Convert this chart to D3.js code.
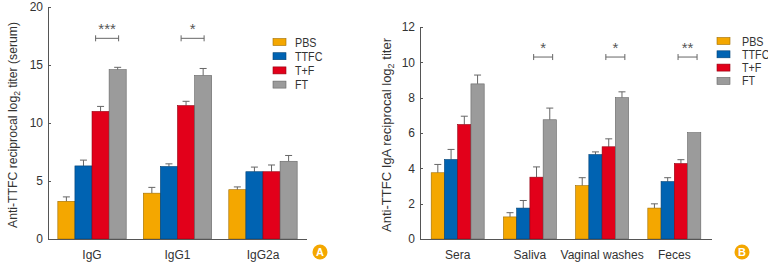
<!DOCTYPE html>
<html lang="en">
<head>
<meta charset="UTF-8">
<title>Anti-TTFC titers</title>
<style>
  body { margin: 0; background: #fff; }
  svg { font-family: "Liberation Sans", Arial, sans-serif; }
  .axis path, .axis line { stroke: #555; shape-rendering: crispEdges; }
  .axis text { font-size: 12px; fill: #333; }
</style>
</head>
<body>
<svg width="768" height="262"></svg>
<script src="https://d3js.org/d3.v7.min.js"></script>
<script>
// groups in the legend
var groups = ["PBS", "TTFC", "T+F", "FT"];
var colors = ["#f4a700", "#0063b2", "#e2001a", "#9b9b9b"];

// panel A (serum IgG subclasses)
var catsA = ["IgG", "IgG1", "IgG2a"];
var meanA = [
  [3.25, 3.95, 4.25],   // PBS
  [6.3, 6.25, 5.8],     // TTFC
  [11.0, 11.5, 5.8],    // T+F
  [14.6, 14.1, 6.7]     // FT
];
var errA = [
  [0.38, 0.5, 0.24],
  [0.5, 0.23, 0.4],
  [0.43, 0.37, 0.58],
  [0.2, 0.6, 0.5]
];
var sigA = [{cat: "IgG", label: "***"}, {cat: "IgG1", label: "*"}];
var ticksA = [0, 5, 10, 15, 20];

// panel B (IgA)
var catsB = ["Sera", "Saliva", "Vaginal washes", "Feces"];
var meanB = [
  [3.75, 1.25, 3.02, 1.75],
  [4.5, 1.75, 4.78, 3.25],
  [6.48, 3.5, 5.22, 4.27],
  [8.78, 6.75, 8.0, 6.02]
];
var errB = [
  [0.47, 0.24, 0.45, 0.24],
  [0.57, 0.43, 0.15, 0.22],
  [0.47, 0.58, 0.45, 0.22],
  [0.5, 0.66, 0.33, 0]
];
var sigB = [{cat: "Saliva", label: "*"}, {cat: "Vaginal washes", label: "*"}, {cat: "Feces", label: "**"}];
var ticksB = [0, 2, 4, 6, 8, 10, 12];

var svg = d3.select("svg");

function panel(o) {
  var x = d3.scaleBand().domain(o.cats).range([o.x0, o.x1])
    .paddingInner(o.padIn).paddingOuter(o.padOut);
  var xs = d3.scaleBand().domain(groups).range([0, x.bandwidth()]);
  var y = d3.scaleLinear().domain([0, o.ymax]).range([o.y0, o.y1]);
  var g = svg.append("g");

  // bars + error bars
  groups.forEach(function(grp, gi) {
    o.cats.forEach(function(c, ci) {
      var v = o.mean[gi][ci], e = o.err[gi][ci];
      var bx = x(c) + xs(grp), bw = xs.bandwidth();
      if (e > 0) {
        g.append("line")
          .attr("x1", bx + bw / 2).attr("x2", bx + bw / 2)
          .attr("y1", y(v)).attr("y2", y(v + e))
          .attr("stroke", "#666").attr("stroke-width", 1);
        g.append("line")
          .attr("x1", bx + bw / 2 - 3.5).attr("x2", bx + bw / 2 + 3.5)
          .attr("y1", y(v + e)).attr("y2", y(v + e))
          .attr("stroke", "#666").attr("stroke-width", 1);
      }
      g.append("rect")
        .attr("x", bx).attr("y", y(v))
        .attr("width", bw).attr("height", y(0) - y(v))
        .attr("fill", colors[gi])
        .attr("stroke", d3.color(colors[gi]).darker(1.2))
        .attr("stroke-width", 0.6);
    });
  });

  // significance brackets
  o.sig.forEach(function(s) {
    var cx = x(s.cat) + xs("FT") + o.sigShift;
    var hw = o.sigHalf, by = y(o.sigY);
    g.append("path")
      .attr("d", "M" + (cx - hw) + "," + (by - 3) + "V" + (by + 3) + "M" + (cx - hw) + "," + by +
        "H" + (cx + hw) + "M" + (cx + hw) + "," + (by - 3) + "V" + (by + 3))
      .attr("stroke", "#666").attr("fill", "none");
    g.append("text")
      .attr("x", cx).attr("y", by - 4)
      .attr("text-anchor", "middle")
      .attr("font-size", 15).attr("fill", "#555")
      .text(s.label);
  });

  // axes
  var ya = g.append("g").attr("class", "axis")
    .attr("transform", "translate(" + o.x0 + ",0)")
    .call(d3.axisRight(y).tickValues(o.ticks).tickSize(3).tickSizeOuter(0));
  ya.select(".domain").attr("d", "M0," + y(0) + "V" + y(o.ymax));
  ya.selectAll("text").attr("x", -5).attr("text-anchor", "end");

  var xa = g.append("g").attr("class", "axis")
    .attr("transform", "translate(0," + o.y0 + ")")
    .call(d3.axisBottom(x).tickSize(0).tickPadding(11));
  xa.select(".domain").attr("d", "M" + o.x0 + ",0H" + o.x1);

  // y label
  g.append("text")
    .attr("transform", "translate(" + o.labX + "," + o.labY + ") rotate(-90)")
    .attr("text-anchor", "middle")
    .attr("font-size", 13).attr("fill", "#333")
    .attr("textLength", o.labLen).attr("lengthAdjust", "spacingAndGlyphs")
    .html(o.label);

  // legend
  var lg = g.selectAll(".lg").data(groups).enter().append("g")
    .attr("transform", function(d, i) { return "translate(" + o.legX + "," + (o.legY + i * o.legStep) + ")"; });
  lg.append("rect")
    .attr("x", 0).attr("y", -3.5).attr("width", 13).attr("height", 7)
    .attr("fill", function(d, i) { return colors[i]; })
    .attr("stroke", function(d, i) { return d3.color(colors[i]).darker(1.2); })
    .attr("stroke-width", 0.6);
  lg.append("text")
    .attr("transform", "translate(" + o.legTx + ",0) scale(0.86,1)")
    .attr("dy", "0.36em")
    .attr("font-size", 12.5).attr("fill", "#333")
    .text(function(d) { return d; });

  // panel badge
  g.append("circle").attr("cx", o.badgeX).attr("cy", 252).attr("r", 7.5).attr("fill", "#f4a700");
  g.append("text").attr("x", o.badgeX).attr("y", 252).attr("dy", "0.36em")
    .attr("text-anchor", "middle").attr("font-size", 11).attr("font-weight", "bold")
    .attr("fill", "#fff").text(o.badge);
}

panel({
  cats: catsA, mean: meanA, err: errA, sig: sigA, ticks: ticksA, ymax: 20,
  x0: 48, x1: 307, y0: 239, y1: 7, padIn: 0.2, padOut: 0.115,
  sigY: 17.3, sigHalf: 11.5, sigShift: -2,
  label: "Anti-TTFC reciprocal log<tspan font-size='9' dy='3'>2</tspan><tspan dy='-3'> titer (serum)</tspan>",
  labX: 17, labY: 125, labLen: 206,
  legX: 273, legY: 42, legStep: 14.2, legTx: 22, badge: "A", badgeX: 320
});

panel({
  cats: catsB, mean: meanB, err: errB, sig: sigB, ticks: ticksB, ymax: 12,
  x0: 420, x1: 712, y0: 239, y1: 27, padIn: 0.266, padOut: 0.155,
  sigY: 10.3, sigHalf: 9.5, sigShift: 0,
  label: "Anti-TTFC IgA reciprocal log<tspan font-size='9' dy='3'>2</tspan><tspan dy='-3'> titer</tspan>",
  labX: 391, labY: 135, labLen: 194,
  legX: 717, legY: 41, legStep: 13.3, legTx: 25, badge: "B", badgeX: 742
});
</script>
</body>
</html>
